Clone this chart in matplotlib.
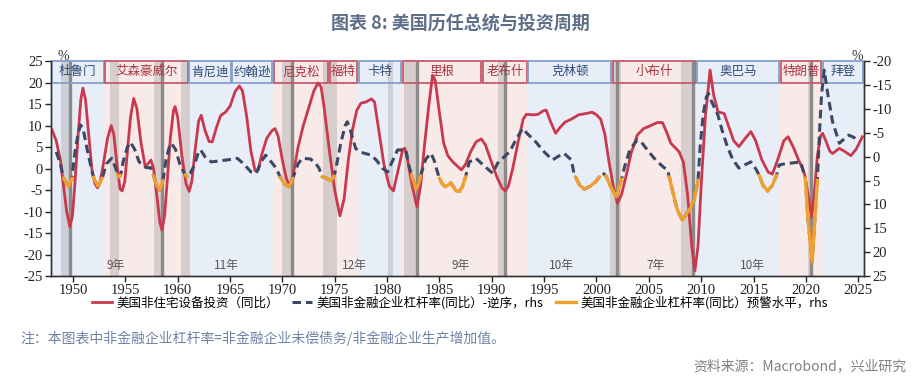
import numpy as np
import matplotlib.pyplot as plt
from matplotlib.lines import Line2D
from matplotlib.patches import Rectangle

# 数字用衬线体，中文回落到思源黑体
plt.rcParams['font.family'] = ['Liberation Serif', 'DejaVu Serif', 'Noto Sans CJK SC']
plt.rcParams['axes.unicode_minus'] = False
CJK = ['Noto Sans CJK SC', 'DejaVu Sans']

# 美国非住宅设备投资（同比），左轴，%
inv_year = [1948.0, 1948.4, 1948.8, 1949.1, 1949.4, 1949.7, 1949.95, 1950.2, 1950.5, 1950.75,
            1950.95, 1951.2, 1951.5, 1951.8, 1952.1, 1952.35, 1952.6, 1952.9, 1953.3, 1953.65,
            1953.9, 1954.2, 1954.5, 1954.7, 1954.95, 1955.2, 1955.5, 1955.8, 1956.1, 1956.5,
            1956.9, 1957.2, 1957.45, 1957.7, 1958.0, 1958.3, 1958.5, 1958.75, 1959.0, 1959.3,
            1959.6, 1959.75, 1960.0, 1960.4, 1960.8, 1961.1, 1961.35, 1961.7, 1962.0, 1962.25,
            1962.6, 1963.0, 1963.3, 1963.7, 1964.1, 1964.6, 1965.0, 1965.5, 1965.9, 1966.2,
            1966.6, 1967.0, 1967.4, 1967.7, 1968.0, 1968.5, 1969.0, 1969.3, 1969.6, 1970.0,
            1970.4, 1970.7, 1971.0, 1971.5, 1972.0, 1972.5, 1973.0, 1973.4, 1973.7, 1974.0,
            1974.5, 1975.0, 1975.5, 1975.9, 1976.3, 1976.7, 1977.1, 1977.5, 1978.0, 1978.5,
            1978.8, 1979.2, 1979.7, 1980.2, 1980.6, 1981.0, 1981.5, 1981.7, 1982.0, 1982.4,
            1982.85, 1983.2, 1983.6, 1984.0, 1984.35, 1984.6, 1985.0, 1985.4, 1985.8, 1986.3,
            1987.1, 1987.5, 1988.0, 1988.5, 1989.0, 1989.4, 1989.9, 1990.5, 1991.0, 1991.3,
            1991.6, 1992.0, 1992.5, 1993.0, 1993.3, 1994.0, 1994.4, 1994.9, 1995.2, 1995.6,
            1996.1, 1996.5, 1997.0, 1997.6, 1998.3, 1999.0, 1999.6, 2000.0, 2000.4, 2000.8,
            2001.2, 2001.6, 2002.0, 2002.4, 2002.9, 2003.3, 2003.9, 2004.5, 2005.0, 2005.8,
            2006.3, 2006.7, 2007.1, 2007.9, 2008.3, 2008.7, 2009.1, 2009.4, 2009.7, 2010.0,
            2010.4, 2010.85, 2011.2, 2011.6, 2012.2, 2012.6, 2013.1, 2013.6, 2014.2, 2014.75,
            2015.2, 2015.8, 2016.4, 2016.8, 2017.3, 2017.9, 2018.3, 2018.8, 2019.3, 2019.6,
            2019.9, 2020.2, 2020.55, 2020.8, 2021.1, 2021.4, 2021.6, 2021.9, 2022.3, 2022.55,
            2023.2, 2023.7, 2024.3, 2024.8, 2025.4]
inv_yoy = [9.0, 6.5, 2.0, -4.0, -10.0, -13.5, -11.0, -3.0, 8.0, 16.0,
           18.7, 16.0, 8.0, 0.0, -3.5, -4.5, -3.0, 1.0, 7.0, 10.0,
           8.0, 1.0, -4.8, -5.2, -3.0, 4.0, 12.0, 16.3, 14.0, 6.0,
           0.5, 1.2, 2.0, 0.0, -6.0, -12.5, -14.3, -11.0, -3.0, 7.0,
           13.5, 14.4, 12.0, 3.0, -3.5, -5.3, -3.0, 5.0, 11.0, 12.4,
           9.0, 6.3, 6.2, 9.5, 12.3, 13.2, 14.5, 18.0, 19.2, 18.0,
           12.0, 4.0, -0.5, -0.3, 3.0, 7.0, 8.8, 9.3, 7.5, 2.0,
           -2.5, -3.8, -2.0, 5.0, 10.0, 14.0, 18.0, 19.9, 19.0, 14.0,
           4.0, -5.0, -11.0, -7.0, 2.0, 9.0, 13.5, 15.2, 15.5, 16.2,
           15.5, 9.0, 1.0, -4.0, -5.2, -1.0, 4.5, 4.7, 1.5, -4.0,
           -8.9, -4.0, 6.0, 15.0, 21.7, 20.5, 13.0, 6.0, 3.0, 1.5,
           -0.3, 1.0, 4.0, 6.2, 6.9, 5.5, 2.0, -2.0, -4.6, -5.2,
           -4.0, 0.0, 6.0, 11.5, 12.6, 12.5, 12.6, 13.4, 13.6, 11.0,
           8.2, 9.5, 10.8, 11.5, 12.5, 12.8, 13.1, 12.5, 11.5, 8.0,
           1.5, -4.0, -8.1, -6.0, -1.0, 3.5, 7.8, 9.3, 9.8, 10.7,
           10.7, 8.5, 5.9, 3.9, 1.5, -6.0, -18.0, -23.8, -18.0, -4.0,
           12.0, 22.9, 17.0, 13.2, 12.8, 10.0, 6.5, 5.1, 7.0, 8.6,
           6.5, 2.0, -0.8, -1.3, 2.0, 6.5, 7.4, 5.0, 2.0, 0.5,
           -1.5, -6.0, -11.2, -6.0, 3.0, 7.5, 8.2, 6.5, 4.0, 3.5,
           4.7, 4.0, 3.0, 4.5, 7.4]

# 美国非金融企业杠杆率（同比），右轴逆序，%
lev_year = [1948.4, 1948.8, 1949.1, 1949.55, 1949.9, 1950.2, 1950.5, 1950.75, 1951.0, 1951.4,
            1951.95, 1952.4, 1952.8, 1953.2, 1953.7, 1954.1, 1954.25, 1954.4, 1954.55, 1954.8,
            1955.2, 1955.5, 1955.9, 1956.3, 1956.6, 1957.0, 1957.4, 1957.7, 1958.0, 1958.3,
            1958.6, 1958.9, 1959.2, 1959.4, 1959.8, 1960.2, 1960.7, 1960.9, 1961.2, 1961.6,
            1962.0, 1962.2, 1962.6, 1963.2, 1964.0, 1965.0, 1965.7, 1966.3, 1967.0, 1967.5,
            1968.0, 1968.4, 1968.9, 1969.4, 1969.8, 1970.2, 1970.65, 1971.0, 1971.5, 1971.9,
            1972.7, 1973.2, 1973.5, 1973.8, 1974.2, 1974.65, 1974.95, 1975.2, 1975.6, 1976.0,
            1976.2, 1976.5, 1977.0, 1977.5, 1978.5, 1979.0, 1979.6, 1980.05, 1980.5, 1981.0,
            1981.8, 1982.1, 1982.35, 1982.5, 1982.75, 1983.0, 1983.2, 1983.4, 1983.7, 1984.2,
            1984.5, 1984.85, 1985.0, 1985.3, 1985.6, 1986.1, 1986.6, 1986.9, 1987.2, 1987.5,
            1987.85, 1988.5, 1989.2, 1990.1, 1990.55, 1991.2, 1991.7, 1992.3, 1992.95, 1993.4,
            1994.2, 1995.0, 1995.8, 1996.3, 1996.9, 1997.6, 1997.85, 1998.0, 1998.4, 1998.85,
            1999.4, 1999.95, 2000.3, 2000.6, 2000.9, 2001.3, 2001.9, 2002.15, 2002.4, 2002.7,
            2003.2, 2003.9, 2004.3, 2005.0, 2005.7, 2006.4, 2006.8, 2006.95, 2007.3, 2007.7,
            2008.2, 2008.6, 2009.0, 2009.35, 2009.7, 2009.9, 2010.2, 2010.5, 2010.7, 2011.0,
            2011.6, 2012.0, 2012.5, 2013.0, 2013.6, 2014.2, 2014.75, 2015.2, 2015.55, 2015.9,
            2016.35, 2016.8, 2017.2, 2017.45, 2018.0, 2018.8, 2019.5, 2019.95, 2020.2, 2020.6,
            2020.8, 2021.1, 2021.3, 2021.5, 2021.75, 2022.1, 2022.55, 2023.2, 2023.7, 2024.1,
            2024.6, 2025.1]
lev_yoy = [-1.0, 1.5, 4.5, 6.3, 4.5, -1.0, -5.0, -6.6, -5.5, -1.0,
           4.3, 6.2, 4.5, 1.5, 0.35, 2.5, 3.9, 4.3, 3.9, 1.0,
           -2.0, -3.0, -1.5, 1.0, 1.8, 2.3, 2.3, 4.0, 6.0, 7.0,
           5.0, 0.5, -2.0, -2.8, -1.5, 1.5, 3.8, 4.2, 3.5, 1.75,
           -1.0, -1.4, 0.0, 1.1, 0.9, 0.6, 0.35, 1.5, 3.2, 3.5,
           1.0, -0.3, 1.0, 2.4, 4.3, 5.7, 6.3, 4.5, 1.5, 0.35,
           0.5, 1.5, 2.4, 4.2, 4.5, 5.1, 4.0, 1.5, -3.0, -6.5,
           -7.3, -5.5, -1.7, -0.9, -0.3, 0.8, 2.5, 3.2, 1.0, -1.4,
           -1.4, 2.0, 3.9, 5.0, 6.8, 5.8, 4.0, 2.5, 0.5, -0.7,
           0.8, 3.5, 4.5, 5.8, 6.3, 5.5, 7.2, 7.3, 6.3, 4.2,
           1.1, 0.35, 1.8, 3.5, 1.4, 0.0, -1.0, -3.5, -5.9, -4.8,
           -3.1, -1.0, 0.7, 0.0, -0.7, 0.7, 3.5, 4.2, 6.0, 6.8,
           6.2, 5.2, 4.2, 3.4, 4.0, 6.0, 8.4, 6.5, 4.7, 2.0,
           -1.5, -3.5, -3.0, -1.0, 0.8, 2.2, 2.8, 4.2, 7.5, 11.0,
           13.3, 12.0, 10.7, 9.0, 4.9, -2.0, -9.0, -12.5, -13.2, -11.5,
           -8.7, -5.5, -2.1, 0.5, 2.4, 1.7, 1.1, 2.5, 3.9, 6.0,
           7.2, 6.0, 3.9, 1.75, 1.5, 1.3, 1.1, 4.5, 13.0, 22.0,
           15.0, 4.9, -5.0, -13.0, -18.1, -13.0, -7.3, -2.8, -3.8, -4.5,
           -4.0, -3.1]

warn_level = 3.8

presidents = ["杜鲁门", "艾森豪威尔", "肯尼迪", "约翰逊", "尼克松", "福特", "卡特",
              "里根", "老布什", "克林顿", "小布什", "奥巴马", "特朗普", "拜登"]
pres_start = [1945.0, 1953.0, 1961.05, 1965.15, 1969.1, 1974.45, 1977.2,
              1981.4, 1989.1, 1993.4, 2001.5, 2009.55, 2017.5, 2021.55]
pres_end = [1953.0, 1961.05, 1965.15, 1969.1, 1974.45, 1977.2, 1981.4,
            1989.1, 1993.4, 2001.5, 2009.55, 2017.5, 2021.55, 2026.0]
pres_party = ["D", "R", "D", "D", "R", "R", "D", "R", "R", "D", "R", "D", "R", "D"]

rec_start = [1948.85, 1953.5, 1957.7, 1960.3, 1969.95, 1973.9, 1980.05, 1981.6,
             1990.55, 2001.3, 2008.05, 2020.2]
rec_end = [1949.93, 1954.4, 1958.7, 1961.15, 1971.1, 1975.2, 1980.6, 1983.0,
           1991.4, 2002.3, 2009.45, 2020.7]

trough_years = [1949.7, 1958.5, 1970.9, 1982.85, 1991.25, 2002.0, 2009.25, 2020.5]
cycle_labels = ["9年", "11年", "12年", "9年", "10年", "7年", "10年"]

x_min, x_max = 1947.9, 2025.55

fig = plt.figure(figsize=(9.2, 3.84), dpi=100)
ax = fig.add_axes([0.0554, 0.281, 0.8837, 0.56])
ax2 = ax.twinx()

party_bg = {"D": "#E8EEF7", "R": "#F8EAE9"}
party_edge = {"D": "#86A0C8", "R": "#C65A6C"}
party_text = {"D": "#2F4A7A", "R": "#A8343F"}

for name, s, e, p in zip(presidents, pres_start, pres_end, pres_party):
    s2, e2 = max(s, x_min), min(e, x_max)
    ax.axvspan(s2, e2, color=party_bg[p], lw=0, zorder=0)
    ax.add_patch(Rectangle((s2 + 0.08, 20), e2 - s2 - 0.16, 5, facecolor="none",
                           edgecolor=party_edge[p], lw=1.3, zorder=3, clip_on=False))
    ax.text((s2 + e2) / 2, 22.5, name, ha="center", va="center", fontsize=9,
            color=party_text[p], zorder=4, family=CJK)

for s, e in zip(rec_start, rec_end):
    ax.axvspan(s, e, color="#8C8C8C", alpha=0.3, lw=0, zorder=1)

for t in trough_years:
    ax.axvline(t, color="#8A8A8A", lw=2.4, zorder=2)

mids = [(a + b) / 2 for a, b in zip(trough_years[:-1], trough_years[1:])]
for m, lab in zip(mids, cycle_labels):
    ax.text(m, -22.6, lab, ha="center", va="center", fontsize=8.5, color="#555555",
            zorder=4, family=CJK)

ax.plot(inv_year, inv_yoy, color="#C9384C", lw=2.0, zorder=5)

lev = np.array(lev_yoy)
ax2.plot(lev_year, lev, color="#3C4864", lw=2.2, linestyle=(0, (2.8, 1.6)), zorder=5)
warn = np.where(lev >= warn_level, lev, np.nan)
ax2.plot(lev_year, warn, color="#F0A02E", lw=2.4, zorder=6, solid_capstyle="round")

ax.set_xlim(x_min, x_max)
ax.set_ylim(-25, 25)
ax.set_yticks(np.arange(-25, 26, 5))
ax.set_xticks(np.arange(1950, 2026, 5))
ax2.set_ylim(25, -20)
ax2.set_yticks(np.arange(-20, 26, 5))

for a in (ax, ax2):
    a.spines["top"].set_visible(False)
    for sp in ("left", "right", "bottom"):
        a.spines[sp].set_color("#333333")
        a.spines[sp].set_linewidth(1.0)
    a.tick_params(length=4, width=1, colors="#222222", labelsize=10.5, pad=2)

fig.text(0.062, 0.845, "%", fontsize=10, color="#333333")
fig.text(0.926, 0.845, "%", fontsize=10, color="#333333")

fig.text(0.5, 0.94, "图表 8: 美国历任总统与投资周期", ha="center", va="center",
         fontsize=13, fontweight="bold", color="#5F6F89", family=CJK)

handles = [
    Line2D([], [], color="#C9384C", lw=2.0),
    Line2D([], [], color="#3C4864", lw=2.2, linestyle=(0, (2.8, 1.6))),
    Line2D([], [], color="#F0A02E", lw=2.4),
]
labels = ["美国非住宅设备投资（同比）", "美国非金融企业杠杆率(同比）-逆序，rhs",
          "美国非金融企业杠杆率(同比）预警水平，rhs"]
fig.legend(handles, labels, loc="center", bbox_to_anchor=(0.5, 0.212), ncol=3,
           frameon=False, handlelength=1.6, handletextpad=0.4, columnspacing=1.0,
           prop={"family": CJK, "size": 9})

fig.text(0.022, 0.12, "注：本图表中非金融企业杠杆率=非金融企业未偿债务/非金融企业生产增加值。",
         fontsize=10, color="#6F82A6", va="center", family=CJK)
fig.text(0.985, 0.047, "资料来源：Macrobond，兴业研究", fontsize=10, color="#808080",
         ha="right", va="center", family=CJK)

fig.savefig("out.png", dpi=100)
